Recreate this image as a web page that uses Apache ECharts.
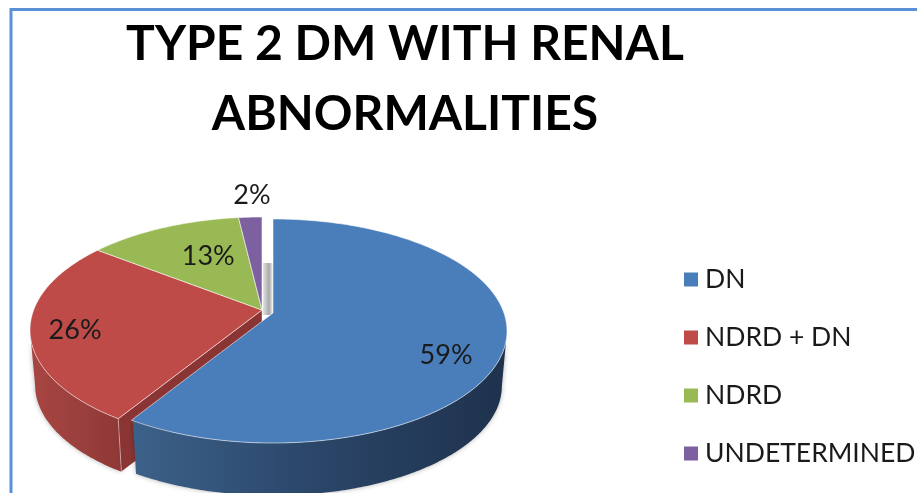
<!DOCTYPE html>
<html>
<head>
<meta charset="utf-8">
<script src="https://cdn.jsdelivr.net/npm/echarts@6/dist/echarts.min.js"></script>
<style>
  html, body { margin: 0; padding: 0; background: #fff; }
  #chart { width: 917px; height: 493px; }
</style>
</head>
<body>
<div id="chart"></div>
<script>
var categories = ['DN', 'NDRD + DN', 'NDRD', 'UNDETERMINED'];
var values = [59, 26, 13, 2];
var colors = ['#4a7ebb', '#be4b48', '#98b954', '#7d60a0'];

// ellipse of the tilted pie: the first slice is pulled away from the other three
var blueDisc = { cx: 273, cy: 331, rx: 234, ry: 112, apexX: 273, apexY: 313, warp: 9 };
var restDisc = { cx: 262, cy: 330, rx: 232, ry: 113, apexX: 262, apexY: 310, warp: 11 };
var depth = 55;
var bottomScale = 0.978;

// where each percent label sits, as fraction of the radius + small nudge
var labelRadius = [0.746, 0.81, 0.65, 1.2];
var labelNudge = [[0, 13], [1, 0], [10, -7], [4, 1]];

var wallColors = [['#3c6189', '#2a4568', '#1e324c'], ['#a84542', '#9c403d', '#8e3836'], ['#7f9a46', '#7f9a46', '#7f9a46'], ['#644d80', '#644d80', '#644d80']];

function discOf (i) {
  return i === 0 ? blueDisc : restDisc;
}

// perspective squeezes the far side of the pie
function warpAngle (deg, disc) {
  return deg - disc.warp * Math.sin(deg * Math.PI / 180);
}

function topPoint (deg, disc) {
  var a = warpAngle(deg, disc) * Math.PI / 180;
  return [disc.cx + disc.rx * Math.sin(a), disc.cy - disc.ry * Math.cos(a)];
}

function bottomPoint (deg, disc) {
  var a = warpAngle(deg, disc) * Math.PI / 180;
  return [disc.cx + disc.rx * bottomScale * Math.sin(a), disc.cy + depth - disc.ry * bottomScale * Math.cos(a)];
}

function sliceAngles (i) {
  var sum = 0, before = 0;
  for (var k = 0; k < values.length; k++) {
    sum += values[k];
    if (k < i) before += values[k];
  }
  return [before / sum * 360, (before + values[i]) / sum * 360];
}

function renderSlice (params, api) {
  var i = api.value(0);
  var disc = discOf(i);
  var range = sliceAngles(i);
  var children = [];
  var d, w, top = [], wallTop = [], wallBottom = [];

  for (d = range[0]; d < range[1]; d += 1) top.push(topPoint(d, disc));
  top.push(topPoint(range[1], disc));

  // front wall only where the rim faces the viewer
  for (d = range[0]; d <= range[1]; d += 0.5) {
    w = warpAngle(d, disc);
    if (w >= 90 && w <= 270) {
      wallTop.push(topPoint(d, disc));
      wallBottom.push(bottomPoint(d, disc));
    }
  }
  if (wallTop.length > 1) {
    children.push({
      type: 'polygon',
      shape: { points: wallTop.concat(wallBottom.reverse()) },
      style: {
        fill: new echarts.graphic.LinearGradient(0, 0, 1, 0, [
          { offset: 0, color: wallColors[i][0] },
          { offset: 0.5, color: wallColors[i][1] },
          { offset: 1, color: wallColors[i][2] }
        ]),
        shadowBlur: 5,
        shadowColor: 'rgba(0,0,0,0.3)'
      }
    });
  }

  // cut face of the red slice that shows in the gap next to blue
  if (i === 1) {
    var corner = topPoint(range[0], disc);
    var cornerLow = bottomPoint(range[0], disc);
    children.push({
      type: 'polygon',
      shape: { points: [[disc.apexX, disc.apexY], corner, cornerLow, [disc.apexX, disc.apexY + depth]] },
      style: { fill: '#8a3533', stroke: 'rgba(255,255,255,0.5)', lineWidth: 0.8 }
    });
  }

  // grey inner face behind the pulled out slice
  if (i === 0) {
    children.push({
      type: 'rect',
      shape: { x: restDisc.apexX + 1, y: disc.apexY - 50, width: disc.apexX - restDisc.apexX - 1, height: 52 },
      style: {
        fill: new echarts.graphic.LinearGradient(0, 0, 1, 0, [
          { offset: 0, color: '#e4e4e4' },
          { offset: 0.6, color: '#a8a8a8' },
          { offset: 1, color: '#f4f4f4' }
        ])
      }
    });
  }

  children.push({
    type: 'polygon',
    shape: { points: [[disc.apexX, disc.apexY]].concat(top) },
    style: { fill: colors[i], stroke: 'rgba(255,255,255,0.55)', lineWidth: 1 }
  });

  var mid = (range[0] + range[1]) / 2;
  var a = warpAngle(mid, disc) * Math.PI / 180;
  children.push({
    type: 'text',
    z2: 10,
    style: {
      x: disc.cx + disc.rx * labelRadius[i] * Math.sin(a) + labelNudge[i][0],
      y: disc.cy - disc.ry * labelRadius[i] * Math.cos(a) + labelNudge[i][1],
      text: values[i] + '%',
      fill: '#1a1a1a',
      font: '27px Lato',
      align: 'center',
      verticalAlign: 'middle'
    }
  });

  return { type: 'group', children: children };
}

// red first, blue last: blue covers the cut face of red
var series = [];
[1, 2, 3, 0].forEach(function (i) {
  series.push({
    name: categories[i],
    type: 'custom',
    coordinateSystem: 'none',
    renderItem: renderSlice,
    itemStyle: { color: colors[i] },
    silent: true,
    data: [[i, values[i]]]
  });
});

var myChart = echarts.init(document.querySelector('#chart'));

var option = {
  animation: false,
  backgroundColor: '#fff',
  title: {
    text: 'TYPE 2 DM WITH RENAL\nABNORMALITIES',
    left: 400,
    top: 5,
    textAlign: 'center',
    textStyle: {
      fontFamily: 'Lato',
      fontWeight: 'bold',
      fontSize: 48,
      lineHeight: 70,
      color: '#000'
    }
  },
  legend: {
    orient: 'vertical',
    left: 679,
    top: 261,
    icon: 'rect',
    itemWidth: 14,
    itemHeight: 14,
    itemGap: 31,
    selectedMode: false,
    data: categories,
    textStyle: {
      fontFamily: 'Lato',
      fontSize: 26.5,
      color: '#1a1a1a',
      padding: [0, 0, 0, 2]
    }
  },
  graphic: [{
    type: 'polyline',
    silent: true,
    z: -1,
    shape: { points: [[11, 493], [11, 9.5], [917, 9.5]] },
    style: { fill: null, stroke: '#5b8fd6', lineWidth: 3 }
  }],
  series: series
};

myChart.setOption(option);
window.addEventListener('resize', function () {
  myChart.resize();
});
</script>
</body>
</html>
